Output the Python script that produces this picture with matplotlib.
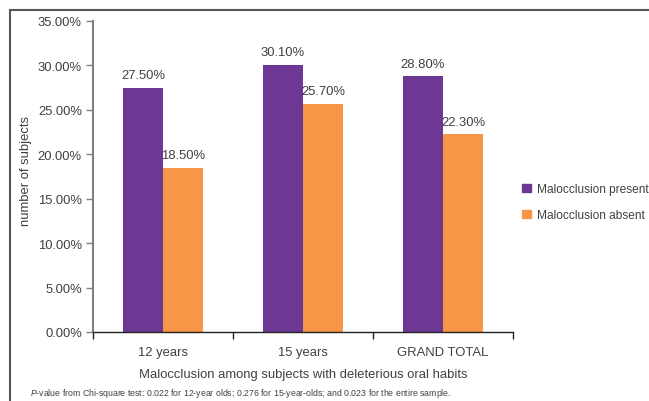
import matplotlib
matplotlib.use("Agg")
import matplotlib.pyplot as plt
from matplotlib.lines import Line2D
from matplotlib.patches import Patch

categories = ["12 years", "15 years", "GRAND TOTAL"]
present = [27.5, 30.1, 28.8]
absent = [18.5, 25.7, 22.3]
series_names = ["Malocclusion present", "Malocclusion absent"]
yticks = [0, 5, 10, 15, 20, 25, 30, 35]

c_present = "#6C3894"
c_absent = "#F79646"
txt = "#404040"
fs = 9.4

plt.rcParams['font.family'] = ['Liberation Sans', 'DejaVu Sans']
plt.rcParams['mathtext.fontset'] = 'custom'
plt.rcParams['mathtext.it'] = 'Liberation Sans:italic'
plt.rcParams['mathtext.rm'] = 'Liberation Sans'

fig = plt.figure(figsize=(6.49, 4.02), dpi=100)
ax = fig.add_axes([93/649, 1-333/402, 420/649, 311/402])

x = list(range(len(categories)))
w = 40/140
ax.bar([i - w/2 for i in x], present, width=w, color=c_present, label=series_names[0])
ax.bar([i + w/2 for i in x], absent, width=w, color=c_absent, label=series_names[1])

for i in x:
    ax.annotate(f"{present[i]:.2f}%", (i - w/2, present[i]), xytext=(0, 4.5), textcoords="offset points",
                ha="center", va="bottom", fontsize=fs, color=txt)
    ax.annotate(f"{absent[i]:.2f}%", (i + w/2, absent[i]), xytext=(0, 4.5), textcoords="offset points",
                ha="center", va="bottom", fontsize=fs, color=txt)

ax.set_xlim(-0.5, len(categories) - 0.5)
ax.set_ylim(0, 35)
ax.set_yticks(yticks)
ax.set_yticklabels([f"{v:.2f}%" for v in yticks], fontsize=fs, color=txt)
ax.set_xticks([i - 0.5 for i in range(len(categories) + 1)])
ax.set_xticklabels([])
ax.set_xticks(x, minor=True)
ax.set_xticklabels(categories, minor=True, fontsize=fs, color=txt)
ax.tick_params(axis="x", which="minor", length=0, pad=10)
ax.tick_params(axis="x", which="major", length=5, width=1, color="#222222", direction="out")
ax.tick_params(axis="y", length=5, width=1, color="#808080", direction="out", pad=3)

for s in ["top", "right"]:
    ax.spines[s].set_visible(False)
ax.spines["left"].set_color("#808080")
ax.spines["left"].set_linewidth(1.5)
ax.spines["bottom"].set_color("#222222")
ax.spines["bottom"].set_linewidth(1)

ax.set_xlabel("Malocclusion among subjects with deleterious oral habits", fontsize=fs, color=txt, labelpad=7)
ax.set_ylabel("number of subjects", fontsize=fs, color=txt)
ax.yaxis.set_label_coords((32 - 93) / 420, 0.52)

handles = [Patch(color=c_present), Patch(color=c_absent)]
leg = fig.legend(handles, series_names, loc="center left", bbox_to_anchor=(514/649, 1-203/402),
                 frameon=False, fontsize=8.6, handlelength=0.7, handleheight=0.7, handletextpad=0.5,
                 labelspacing=1.15, borderpad=0.2)
for t in leg.get_texts():
    t.set_color(txt)

# outer border (left and top)
fig.add_artist(Line2D([10/649, 10/649], [0, 1-11/402], transform=fig.transFigure, color="#555555", lw=1.5))
fig.add_artist(Line2D([10/649, 1], [1-11/402, 1-11/402], transform=fig.transFigure, color="#555555", lw=1.5))

fig.text(30/649, 1-394/402,
         r"$\it{P}$-value from Chi-square test: 0.022 for 12-year olds; 0.276 for 15-year-olds; and 0.023 for the entire sample.",
         fontsize=6.3, color=txt, va="center", ha="left")

fig.savefig("out.png", dpi=100)
